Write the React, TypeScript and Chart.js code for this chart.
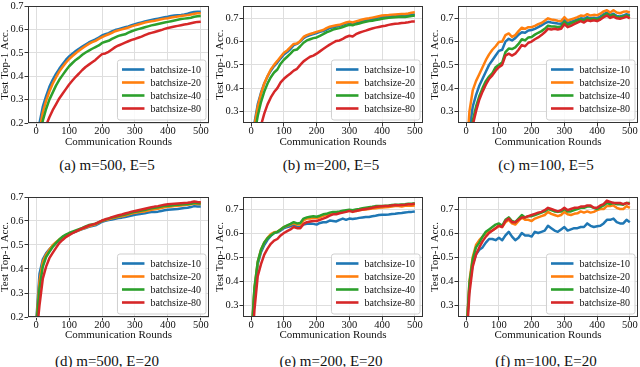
import React, { useEffect, useRef } from "react";
import { Chart, registerables } from "chart.js";

Chart.register(...registerables);

const FONT = '"Liberation Serif", "Times New Roman", "DejaVu Serif", serif';

// ---------------- data ----------------
const rounds = [0, 5, 10, 20, 30, 40, 50, 60, 70, 80, 90, 100, 110, 120, 130, 140, 150, 160, 170, 180, 190, 200, 210, 220, 230, 240, 250, 260, 270, 280, 290, 300, 310, 320, 330, 340, 350, 360, 370, 380, 390, 400, 410, 420, 430, 440, 450, 460, 470, 480, 490, 500];

const seriesLabels = ["batchsize-10", "batchsize-20", "batchsize-40", "batchsize-80"];
const seriesColors = ["#1f77b4", "#ff7f0e", "#2ca02c", "#d62728"];
const xTickValues = [0, 100, 200, 300, 400, 500];
const yTicksLow = [0.2, 0.3, 0.4, 0.5, 0.6, 0.7];
const yTicksHigh = [0.3, 0.4, 0.5, 0.6, 0.7];
const captions = ["(a) m=500, E=5", "(b) m=200, E=5", "(c) m=100, E=5", "(d) m=500, E=20", "(e) m=200, E=20", "(f) m=100, E=20"];
const xTitle = "Communication Rounds";
const yTitle = "Test Top-1 Acc.";

// (a) m=500, E=5
const A10 = [0.10, 0.15, 0.20, 0.27, 0.315, 0.355, 0.385, 0.41, 0.432, 0.452,
  0.47, 0.485, 0.497, 0.508, 0.518, 0.527, 0.536, 0.545, 0.552, 0.558,
  0.566, 0.575, 0.58, 0.585, 0.592, 0.598, 0.602, 0.606, 0.61, 0.614,
  0.619, 0.623, 0.627, 0.631, 0.635, 0.638, 0.641, 0.644, 0.647, 0.65,
  0.653, 0.655, 0.658, 0.66, 0.662, 0.663, 0.665, 0.668, 0.672, 0.675,
  0.676, 0.676];
const A20 = [0.09, 0.13, 0.17, 0.245, 0.295, 0.335, 0.368, 0.395, 0.42, 0.44,
  0.458, 0.474, 0.487, 0.499, 0.51, 0.52, 0.53, 0.539, 0.546, 0.552,
  0.56, 0.568, 0.574, 0.58, 0.586, 0.593, 0.597, 0.601, 0.605, 0.609,
  0.614, 0.618, 0.622, 0.626, 0.63, 0.633, 0.636, 0.638, 0.641, 0.644,
  0.647, 0.649, 0.652, 0.654, 0.656, 0.658, 0.66, 0.662, 0.665, 0.668,
  0.67, 0.67];
const A40 = [0.08, 0.12, 0.15, 0.21, 0.26, 0.30, 0.33, 0.36, 0.385, 0.405,
  0.425, 0.443, 0.457, 0.47, 0.48, 0.492, 0.502, 0.51, 0.518, 0.525,
  0.532, 0.543, 0.548, 0.552, 0.56, 0.567, 0.573, 0.577, 0.58, 0.587,
  0.593, 0.598, 0.602, 0.606, 0.61, 0.614, 0.618, 0.621, 0.624, 0.627,
  0.63, 0.633, 0.636, 0.639, 0.642, 0.645, 0.647, 0.649, 0.651, 0.655,
  0.657, 0.658];
const A80 = [0.06, 0.08, 0.10, 0.14, 0.19, 0.225, 0.255, 0.28, 0.305, 0.325,
  0.345, 0.365, 0.382, 0.398, 0.412, 0.427, 0.44, 0.45, 0.46, 0.47,
  0.483, 0.495, 0.498, 0.505, 0.515, 0.525, 0.532, 0.538, 0.544, 0.55,
  0.556, 0.56, 0.565, 0.57, 0.576, 0.582, 0.586, 0.59, 0.594, 0.598,
  0.603, 0.607, 0.61, 0.613, 0.616, 0.619, 0.622, 0.624, 0.627, 0.63,
  0.633, 0.634];

// (b) m=200, E=5
const B10 = [0.10, 0.17, 0.25, 0.33, 0.38, 0.42, 0.45, 0.475, 0.495, 0.51,
  0.528, 0.545, 0.555, 0.568, 0.585, 0.59, 0.60, 0.615, 0.623, 0.628,
  0.632, 0.637, 0.642, 0.645, 0.652, 0.658, 0.662, 0.665, 0.668, 0.673,
  0.678, 0.68, 0.677, 0.682, 0.686, 0.69, 0.692, 0.694, 0.697, 0.70,
  0.703, 0.706, 0.707, 0.708, 0.71, 0.711, 0.712, 0.713, 0.712, 0.714,
  0.716, 0.717];
const B20 = [0.10, 0.16, 0.24, 0.32, 0.375, 0.42, 0.452, 0.48, 0.50, 0.517,
  0.535, 0.552, 0.562, 0.576, 0.59, 0.592, 0.603, 0.62, 0.628, 0.633,
  0.637, 0.642, 0.646, 0.65, 0.658, 0.664, 0.667, 0.67, 0.672, 0.677,
  0.682, 0.685, 0.682, 0.687, 0.691, 0.695, 0.698, 0.70, 0.703, 0.706,
  0.709, 0.712, 0.713, 0.714, 0.716, 0.717, 0.718, 0.719, 0.719, 0.721,
  0.724, 0.726];
const B40 = [0.09, 0.14, 0.20, 0.28, 0.34, 0.385, 0.42, 0.447, 0.467, 0.48,
  0.505, 0.522, 0.535, 0.548, 0.563, 0.566, 0.58, 0.595, 0.605, 0.61,
  0.615, 0.618, 0.625, 0.632, 0.64, 0.645, 0.652, 0.655, 0.658, 0.663,
  0.668, 0.672, 0.67, 0.675, 0.678, 0.682, 0.685, 0.688, 0.69, 0.693,
  0.695, 0.698, 0.70, 0.702, 0.704, 0.705, 0.706, 0.707, 0.706, 0.708,
  0.71, 0.712];
const B80 = [0.08, 0.10, 0.13, 0.18, 0.24, 0.29, 0.33, 0.36, 0.383, 0.40,
  0.425, 0.44, 0.452, 0.463, 0.475, 0.483, 0.50, 0.515, 0.525, 0.535,
  0.54, 0.548, 0.558, 0.568, 0.578, 0.587, 0.595, 0.603, 0.605, 0.612,
  0.62, 0.625, 0.622, 0.632, 0.638, 0.643, 0.647, 0.652, 0.656, 0.66,
  0.663, 0.666, 0.668, 0.672, 0.675, 0.677, 0.678, 0.68, 0.681, 0.683,
  0.686, 0.686];

// (c) m=100, E=5
const C10 = [0.10, 0.16, 0.22, 0.32, 0.37, 0.41, 0.44, 0.47, 0.50, 0.52,
  0.54, 0.56, 0.565, 0.60, 0.612, 0.605, 0.615, 0.63, 0.64, 0.638,
  0.648, 0.65, 0.655, 0.662, 0.67, 0.678, 0.685, 0.682, 0.68, 0.678,
  0.677, 0.695, 0.68, 0.685, 0.69, 0.695, 0.70, 0.698, 0.705, 0.70,
  0.703, 0.70, 0.708, 0.718, 0.725, 0.715, 0.72, 0.71, 0.708, 0.712,
  0.718, 0.714];
const C20 = [0.10, 0.20, 0.30, 0.39, 0.43, 0.46, 0.49, 0.52, 0.545, 0.565,
  0.58, 0.598, 0.60, 0.628, 0.635, 0.62, 0.628, 0.645, 0.66, 0.655,
  0.662, 0.662, 0.668, 0.675, 0.68, 0.69, 0.70, 0.695, 0.693, 0.69,
  0.688, 0.705, 0.69, 0.695, 0.70, 0.705, 0.712, 0.71, 0.718, 0.712,
  0.715, 0.713, 0.72, 0.73, 0.735, 0.725, 0.735, 0.725, 0.722, 0.728,
  0.73, 0.725];
const C40 = [0.08, 0.13, 0.18, 0.26, 0.32, 0.365, 0.40, 0.43, 0.45, 0.465,
  0.49, 0.50, 0.51, 0.555, 0.57, 0.568, 0.575, 0.59, 0.61, 0.605,
  0.618, 0.62, 0.63, 0.638, 0.645, 0.655, 0.668, 0.665, 0.665, 0.663,
  0.665, 0.685, 0.672, 0.678, 0.685, 0.69, 0.695, 0.69, 0.70, 0.695,
  0.698, 0.695, 0.70, 0.712, 0.72, 0.71, 0.715, 0.705, 0.705, 0.708,
  0.712, 0.708];
const C80 = [0.08, 0.12, 0.17, 0.24, 0.30, 0.35, 0.385, 0.415, 0.44, 0.455,
  0.475, 0.49, 0.50, 0.54, 0.548, 0.54, 0.548, 0.565, 0.585, 0.58,
  0.595, 0.60, 0.61, 0.618, 0.628, 0.64, 0.655, 0.652, 0.655, 0.652,
  0.655, 0.675, 0.662, 0.668, 0.675, 0.682, 0.688, 0.682, 0.692, 0.688,
  0.692, 0.688, 0.695, 0.705, 0.712, 0.702, 0.708, 0.70, 0.698, 0.702,
  0.708, 0.70];

// (d) m=500, E=20
const D10 = [0.18, 0.28, 0.38, 0.44, 0.465, 0.482, 0.497, 0.509, 0.52, 0.53,
  0.538, 0.545, 0.551, 0.556, 0.561, 0.566, 0.571, 0.576, 0.579, 0.582,
  0.589, 0.597, 0.601, 0.604, 0.606, 0.609, 0.612, 0.614, 0.617, 0.62,
  0.623, 0.626, 0.628, 0.63, 0.632, 0.635, 0.637, 0.638, 0.639, 0.642,
  0.645, 0.647, 0.648, 0.649, 0.65, 0.652, 0.654, 0.655, 0.658, 0.662,
  0.66, 0.66];
const D20 = [0.17, 0.26, 0.35, 0.43, 0.46, 0.48, 0.499, 0.512, 0.523, 0.533,
  0.54, 0.547, 0.552, 0.557, 0.562, 0.567, 0.573, 0.578, 0.582, 0.586,
  0.593, 0.60, 0.604, 0.607, 0.611, 0.614, 0.618, 0.62, 0.623, 0.627,
  0.631, 0.634, 0.636, 0.638, 0.64, 0.644, 0.647, 0.649, 0.651, 0.654,
  0.657, 0.659, 0.66, 0.662, 0.663, 0.665, 0.667, 0.668, 0.67, 0.673,
  0.671, 0.671];
const D40 = [0.16, 0.24, 0.32, 0.41, 0.45, 0.472, 0.492, 0.508, 0.523, 0.535,
  0.543, 0.55, 0.556, 0.561, 0.566, 0.571, 0.577, 0.583, 0.586, 0.589,
  0.594, 0.601, 0.606, 0.61, 0.614, 0.617, 0.621, 0.624, 0.627, 0.631,
  0.635, 0.638, 0.641, 0.644, 0.646, 0.65, 0.653, 0.655, 0.657, 0.66,
  0.663, 0.664, 0.665, 0.667, 0.668, 0.669, 0.67, 0.671, 0.672, 0.676,
  0.674, 0.673];
const D80 = [0.14, 0.18, 0.25, 0.36, 0.41, 0.445, 0.467, 0.488, 0.508, 0.521,
  0.533, 0.541, 0.549, 0.556, 0.563, 0.569, 0.575, 0.581, 0.585, 0.589,
  0.595, 0.602, 0.607, 0.611, 0.616, 0.62, 0.624, 0.627, 0.631, 0.635,
  0.639, 0.642, 0.645, 0.648, 0.651, 0.654, 0.657, 0.66, 0.662, 0.665,
  0.668, 0.67, 0.671, 0.672, 0.673, 0.674, 0.675, 0.676, 0.678, 0.681,
  0.679, 0.678];

// (e) m=200, E=20
const E10 = [0.15, 0.25, 0.36, 0.47, 0.52, 0.55, 0.572, 0.588, 0.60, 0.603,
  0.61, 0.62, 0.625, 0.628, 0.635, 0.625, 0.625, 0.635, 0.638, 0.64,
  0.638, 0.635, 0.642, 0.645, 0.645, 0.652, 0.65, 0.648, 0.655, 0.66,
  0.655, 0.66, 0.658, 0.66, 0.663, 0.665, 0.667, 0.667, 0.67, 0.672,
  0.675, 0.676, 0.676, 0.677, 0.679, 0.68, 0.682, 0.683, 0.685, 0.687,
  0.688, 0.69];
const E20 = [0.15, 0.26, 0.37, 0.48, 0.53, 0.56, 0.58, 0.595, 0.603, 0.605,
  0.615, 0.625, 0.63, 0.635, 0.64, 0.635, 0.635, 0.652, 0.66, 0.66,
  0.662, 0.662, 0.665, 0.672, 0.675, 0.68, 0.683, 0.683, 0.686, 0.688,
  0.69, 0.693, 0.69, 0.692, 0.695, 0.697, 0.698, 0.70, 0.702, 0.703,
  0.705, 0.706, 0.707, 0.708, 0.71, 0.712, 0.712, 0.71, 0.713, 0.715,
  0.714, 0.715];
const E40 = [0.15, 0.26, 0.37, 0.48, 0.53, 0.56, 0.578, 0.59, 0.60, 0.605,
  0.615, 0.625, 0.632, 0.638, 0.645, 0.64, 0.642, 0.66, 0.665, 0.668,
  0.67, 0.668, 0.672, 0.678, 0.68, 0.685, 0.688, 0.688, 0.69, 0.693,
  0.695, 0.697, 0.695, 0.698, 0.70, 0.703, 0.705, 0.707, 0.709, 0.712,
  0.713, 0.713, 0.714, 0.715, 0.717, 0.718, 0.718, 0.719, 0.72, 0.722,
  0.722, 0.724];
const E80 = [0.12, 0.18, 0.28, 0.42, 0.47, 0.51, 0.535, 0.555, 0.568, 0.575,
  0.59, 0.60, 0.608, 0.615, 0.625, 0.62, 0.62, 0.638, 0.645, 0.648,
  0.65, 0.65, 0.655, 0.66, 0.665, 0.672, 0.678, 0.678, 0.682, 0.685,
  0.688, 0.692, 0.688, 0.692, 0.695, 0.698, 0.70, 0.702, 0.705, 0.708,
  0.71, 0.711, 0.712, 0.713, 0.715, 0.717, 0.716, 0.717, 0.718, 0.72,
  0.72, 0.722];

// (f) m=100, E=20
const F10 = [0.15, 0.27, 0.38, 0.47, 0.51, 0.53, 0.54, 0.56, 0.575, 0.575,
  0.57, 0.58, 0.57, 0.59, 0.605, 0.585, 0.57, 0.58, 0.60, 0.59,
  0.59, 0.585, 0.605, 0.60, 0.605, 0.61, 0.63, 0.62, 0.61, 0.605,
  0.615, 0.625, 0.61, 0.615, 0.62, 0.62, 0.625, 0.625, 0.64, 0.63,
  0.625, 0.628, 0.63, 0.64, 0.655, 0.655, 0.66, 0.645, 0.64, 0.64,
  0.655, 0.645];
const F20 = [0.15, 0.28, 0.40, 0.50, 0.55, 0.57, 0.585, 0.60, 0.605, 0.61,
  0.62, 0.63, 0.625, 0.645, 0.655, 0.64, 0.635, 0.65, 0.665, 0.655,
  0.655, 0.65, 0.66, 0.665, 0.67, 0.675, 0.688, 0.68, 0.675, 0.67,
  0.675, 0.688, 0.678, 0.675, 0.68, 0.682, 0.69, 0.685, 0.69, 0.685,
  0.688, 0.695, 0.70, 0.70, 0.712, 0.712, 0.715, 0.705, 0.70, 0.70,
  0.712, 0.705];
const F40 = [0.15, 0.28, 0.39, 0.49, 0.54, 0.56, 0.585, 0.605, 0.615, 0.625,
  0.635, 0.64, 0.63, 0.655, 0.665, 0.65, 0.645, 0.66, 0.675, 0.665,
  0.67, 0.67, 0.675, 0.68, 0.685, 0.69, 0.70, 0.695, 0.69, 0.688,
  0.69, 0.70, 0.69, 0.69, 0.695, 0.70, 0.705, 0.705, 0.71, 0.71,
  0.705, 0.70, 0.708, 0.715, 0.725, 0.72, 0.725, 0.72, 0.72, 0.718,
  0.725, 0.725];
const F80 = [0.13, 0.24, 0.35, 0.46, 0.51, 0.54, 0.565, 0.585, 0.60, 0.61,
  0.62, 0.63, 0.625, 0.65, 0.66, 0.645, 0.645, 0.655, 0.665, 0.665,
  0.67, 0.675, 0.68, 0.685, 0.688, 0.695, 0.705, 0.70, 0.695, 0.69,
  0.695, 0.705, 0.695, 0.70, 0.705, 0.705, 0.71, 0.71, 0.715, 0.715,
  0.705, 0.705, 0.715, 0.72, 0.735, 0.73, 0.725, 0.725, 0.725, 0.72,
  0.725, 0.72];

// ---------------- layout ----------------
type PanelSpec = {
  caption: string;
  series: number[][];
  yMin: number;
  yMax: number;
  yTicks: number[];
  left: number;
  top: number;
  width: number;
  height: number;
  yW: number;
  padR: number;
  padT: number;
  xH: number;
  tickPad: number;
  xTitlePad: number;
  yTitlePad: number;
  capX: number;
  capY: number;
};

const TOP_ROW = { top: 0, height: 151, padT: 3, xH: 28, tickPad: -1, xTitlePad: 3.2, capY: 165 };
const BOT_ROW = { top: 180, height: 165, padT: 17, xH: 28, tickPad: -0.5, xTitlePad: 4.5, capY: 360.5 };
const COLS = [
  { left: 0, width: 213, yW: 28, padR: 4, yTitlePad: 0, capX: 107 },
  { left: 213, width: 214, yW: 30, padR: 4, yTitlePad: 1.5, capX: 331 },
  { left: 427, width: 213, yW: 31, padR: 2, yTitlePad: 2.5, capX: 546 },
];

const panels: PanelSpec[] = [
  { caption: captions[0], series: [A10, A20, A40, A80], yMin: 0.2, yMax: 0.7, yTicks: yTicksLow, ...COLS[0], ...TOP_ROW },
  { caption: captions[1], series: [B10, B20, B40, B80], yMin: 0.25, yMax: 0.752, yTicks: yTicksHigh, ...COLS[1], ...TOP_ROW },
  { caption: captions[2], series: [C10, C20, C40, C80], yMin: 0.25, yMax: 0.752, yTicks: yTicksHigh, ...COLS[2], ...TOP_ROW },
  { caption: captions[3], series: [D10, D20, D40, D80], yMin: 0.2, yMax: 0.7, yTicks: yTicksLow, ...COLS[0], ...BOT_ROW },
  { caption: captions[4], series: [E10, E20, E40, E80], yMin: 0.25, yMax: 0.75, yTicks: yTicksHigh, ...COLS[1], ...BOT_ROW },
  { caption: captions[5], series: [F10, F20, F40, F80], yMin: 0.25, yMax: 0.75, yTicks: yTicksHigh, ...COLS[2], ...BOT_ROW },
];

const framePlugin = {
  id: "frameBox",
  afterDraw(chart: any) {
    const { ctx, chartArea } = chart;
    ctx.save();
    ctx.strokeStyle = "#333333";
    ctx.lineWidth = 1;
    const l = Math.round(chartArea.left) + 0.5;
    const t = Math.round(chartArea.top) + 0.5;
    const r = Math.round(chartArea.right) - 0.5;
    const b = Math.round(chartArea.bottom) - 0.5;
    ctx.strokeRect(l, t, r - l, b - t);
    ctx.restore();
  },
};

const legendPlugin = {
  id: "boxLegend",
  afterDatasetsDraw(chart: any) {
    const { ctx, chartArea } = chart;
    ctx.save();
    ctx.font = `10px ${FONT}`;
    const textW = Math.max(...seriesLabels.map((l) => ctx.measureText(l).width));
    const lineX0 = 4.5;
    const lineLen = 22.5;
    const textGap = 6;
    const w = lineX0 + lineLen + textGap + textW + 5;
    const rowH = 13;
    const h = 9.5 + rowH * 3 + 11.5;
    const x = chartArea.right - 3 - w;
    const y = chartArea.bottom - 3 - h;
    ctx.beginPath();
    if (ctx.roundRect) ctx.roundRect(x, y, w, h, 2.5);
    else ctx.rect(x, y, w, h);
    ctx.fillStyle = "rgba(255,255,255,0.85)";
    ctx.fill();
    ctx.strokeStyle = "#cfcfcf";
    ctx.lineWidth = 1;
    ctx.stroke();
    seriesLabels.forEach((lab, i) => {
      const cy = y + 9.5 + i * rowH;
      ctx.strokeStyle = seriesColors[i];
      ctx.lineWidth = 2.6;
      ctx.beginPath();
      ctx.moveTo(x + lineX0, cy);
      ctx.lineTo(x + lineX0 + lineLen, cy);
      ctx.stroke();
      ctx.fillStyle = "#111111";
      ctx.textBaseline = "middle";
      ctx.textAlign = "left";
      ctx.fillText(lab, x + lineX0 + lineLen + textGap, cy + 0.5);
    });
    ctx.restore();
  },
};

function Panel({ spec }: { spec: PanelSpec }) {
  const ref = useRef<HTMLCanvasElement | null>(null);
  useEffect(() => {
    if (!ref.current) return;
    const chart = new Chart(ref.current, {
      type: "line",
      data: {
        datasets: spec.series.map((vals, i) => ({
          label: seriesLabels[i],
          data: rounds.map((r, k) => ({ x: r, y: vals[k] })),
          borderColor: seriesColors[i],
          backgroundColor: seriesColors[i],
          borderWidth: 2.5,
          pointRadius: 0,
          tension: 0,
          fill: false,
          clip: 0,
          order: 3 - i,
          borderJoinStyle: "round",
        })),
      },
      options: {
        responsive: false,
        animation: false,
        events: [],
        layout: {
          padding: { left: 0, right: spec.padR, top: spec.padT, bottom: 0 },
          autoPadding: false,
        },
        plugins: {
          legend: { display: false },
          tooltip: { enabled: false },
          title: { display: false },
        },
        scales: {
          x: {
            type: "linear",
            min: -25,
            max: 525,
            afterBuildTicks: (s: any) => {
              s.ticks = xTickValues.map((v) => ({ value: v }));
            },
            afterFit: (s: any) => {
              s.height = spec.xH;
            },
            ticks: {
              font: { family: FONT, size: 10.5, lineHeight: 1 },
              color: "#111111",
              padding: spec.tickPad,
              maxRotation: 0,
              autoSkip: false,
              callback: (v: any) => String(v),
            },
            grid: {
              color: "#dedede",
              lineWidth: 1,
              drawTicks: true,
              tickLength: 3.5,
              tickColor: "#333333",
              tickWidth: 1,
            },
            border: { display: false },
            title: {
              display: true,
              text: xTitle,
              font: { family: FONT, size: 11, lineHeight: 1 },
              color: "#111111",
              padding: { top: 0, bottom: spec.xTitlePad },
            },
          },
          y: {
            type: "linear",
            min: spec.yMin,
            max: spec.yMax,
            afterBuildTicks: (s: any) => {
              s.ticks = spec.yTicks.map((v) => ({ value: v }));
            },
            afterFit: (s: any) => {
              s.width = spec.yW;
            },
            ticks: {
              font: { family: FONT, size: 10.5, lineHeight: 1 },
              color: "#111111",
              padding: 1,
              autoSkip: false,
              callback: (v: any) => Number(v).toFixed(1),
            },
            grid: {
              color: "#dedede",
              lineWidth: 1,
              drawTicks: true,
              tickLength: 3.5,
              tickColor: "#333333",
              tickWidth: 1,
            },
            border: { display: false },
            title: {
              display: true,
              text: yTitle,
              font: { family: FONT, size: 11, lineHeight: 1 },
              color: "#111111",
              padding: { top: spec.yTitlePad, bottom: 0 },
            },
          },
        },
      } as any,
      plugins: [framePlugin, legendPlugin],
    });
    return () => chart.destroy();
  }, [spec]);

  return (
    <>
      <canvas
        ref={ref}
        width={spec.width}
        height={spec.height}
        style={{ position: "absolute", left: spec.left, top: spec.top, width: spec.width, height: spec.height }}
      />
      <div
        style={{
          position: "absolute",
          left: spec.capX - 70,
          top: spec.capY - 8,
          width: 140,
          height: 16,
          lineHeight: "16px",
          textAlign: "center",
          fontFamily: FONT,
          fontSize: 15,
          color: "#111111",
          whiteSpace: "nowrap",
        }}
      >
        {spec.caption}
      </div>
    </>
  );
}

export default function App() {
  return (
    <div style={{ position: "absolute", left: 0, top: 0, width: 640, height: 367, background: "#ffffff", overflow: "hidden" }}>
      {panels.map((p, i) => (
        <Panel key={i} spec={p} />
      ))}
    </div>
  );
}
